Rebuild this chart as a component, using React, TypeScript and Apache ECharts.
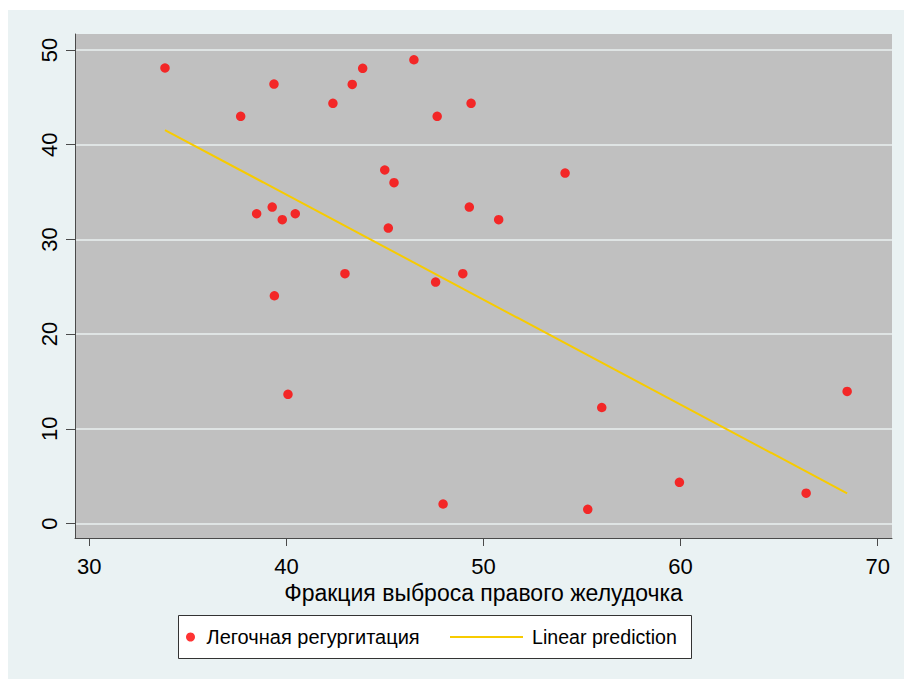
import React, { useEffect, useRef } from "react";
import * as echarts from "echarts";

const xTicks = [30, 40, 50, 60, 70];
const yTicks = [0, 10, 20, 30, 40, 50];

const pointX = [
  33.84, 37.68, 39.37, 38.49, 39.28, 39.79, 40.45, 39.39, 40.08, 42.36,
  43.34, 43.87, 46.47, 42.97, 44.99, 45.46, 45.17, 47.65, 49.37, 49.28,
  50.77, 47.57, 48.95, 47.95, 54.14, 56.0, 55.29, 59.94, 66.37, 68.45,
];
const pointY = [
  48.1, 43.0, 46.4, 32.71, 33.42, 32.08, 32.71, 24.05, 13.64, 44.37,
  46.37, 48.07, 48.97, 26.38, 37.33, 35.99, 31.2, 43.0, 44.37, 33.42,
  32.08, 25.5, 26.38, 2.06, 37.0, 12.25, 1.5, 4.35, 3.2, 13.95,
];

const fitX = [33.84, 68.45];
const fitY = [41.55, 3.19];

const scatterName = "Легочная регургитация";
const lineName = "Linear prediction";
const xTitle = "Фракция выброса правого желудочка";

const FONT = "'Liberation Sans', Arial, sans-serif";

export default function App() {
  const ref = useRef<HTMLDivElement>(null);

  useEffect(() => {
    if (!ref.current) return;
    const chart = echarts.init(ref.current, undefined, { renderer: "svg" });
    const axisLineColor = "#4a4a4a";
    const textColor = "#000";
    const gold = "#F7CB00";
    chart.setOption({
      animation: false,
      backgroundColor: "#EAF2F3",
      textStyle: { fontFamily: FONT },
      grid: {
        left: 67,
        top: 24,
        right: 12,
        bottom: 141,
        show: true,
        backgroundColor: "#C0C0C0",
        borderWidth: 0,
      },
      xAxis: {
        type: "value",
        min: 29.274,
        max: 70.726,
        name: xTitle,
        nameLocation: "middle",
        nameGap: 40,
        nameTextStyle: { fontSize: 23, color: textColor, fontFamily: FONT },
        axisLine: { show: true, onZero: false, lineStyle: { color: axisLineColor, width: 1 } },
        axisTick: { show: true, length: 8, customValues: xTicks, lineStyle: { color: axisLineColor } },
        axisLabel: { customValues: xTicks, fontSize: 22, color: textColor, margin: 17, fontFamily: FONT },
        splitLine: { show: false },
      },
      yAxis: {
        type: "value",
        min: -1.53,
        max: 51.69,
        axisLine: { show: true, onZero: false, lineStyle: { color: axisLineColor, width: 1 } },
        axisTick: { show: true, length: 9, customValues: yTicks, lineStyle: { color: axisLineColor } },
        axisLabel: { customValues: yTicks, fontSize: 22, color: textColor, margin: 15, rotate: 90, fontFamily: FONT },
        splitLine: { show: true, lineStyle: { color: "#EAF0F1", width: 1.5 } },
      },
      graphic: [
        {
          type: "rect",
          left: 170,
          top: 605,
          shape: { width: 513, height: 43 },
          style: { fill: "#ffffff", stroke: "#333333", lineWidth: 1 },
          z: 0,
        },
      ],
      legend: [
        {
          data: [scatterName],
          left: 178,
          top: 617,
          padding: 0,
          itemWidth: 22,
          itemHeight: 9,
          icon: "circle",
          selectedMode: false,
          textStyle: { fontSize: 20, color: textColor, fontFamily: FONT },
          z: 5,
        },
        {
          data: [{ name: lineName, icon: "rect", itemStyle: { color: gold } }],
          left: 442,
          top: 617,
          padding: 0,
          itemWidth: 73,
          itemHeight: 2,
          selectedMode: false,
          textStyle: { fontSize: 19.6, color: textColor, fontFamily: FONT, padding: [0, 0, 0, 4] },
          z: 5,
        },
      ],
      series: [
        {
          name: scatterName,
          type: "scatter",
          symbol: "circle",
          symbolSize: 9.5,
          itemStyle: { color: "#FF0000" },
          data: pointX.map((x, i) => [x, pointY[i]]),
          z: 3,
        },
        {
          name: lineName,
          type: "line",
          symbol: "none",
          lineStyle: { color: gold, width: 2 },
          itemStyle: { color: gold },
          data: fitX.map((x, i) => [x, fitY[i]]),
          z: 4,
        },
      ],
    });
    return () => chart.dispose();
  }, []);

  return (
    <div
      ref={ref}
      style={{ position: "fixed", left: 8, top: 10, width: 896, height: 669 }}
    />
  );
}
